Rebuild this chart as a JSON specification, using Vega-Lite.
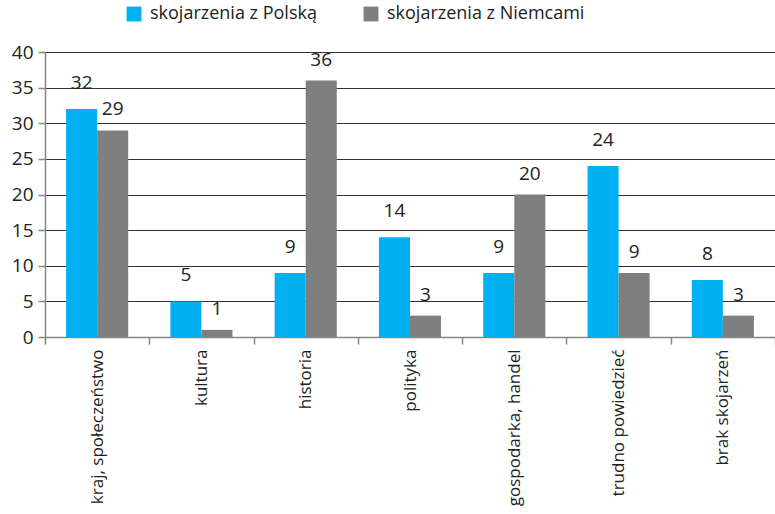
{
  "$schema": "https://vega.github.io/schema/vega-lite/v6.json",
  "width": 730,
  "height": 285,
  "autosize": {"type": "none"},
  "padding": {"left": 45, "top": 52, "right": 0, "bottom": 177},
  "background": "white",
  "config": {"view": {"stroke": null}, "font": "Open Sans"},
  "data": {
    "values": [
      {"kategoria": "kraj, społeczeństwo", "seria": "skojarzenia z Polską", "wartosc": 32},
      {"kategoria": "kraj, społeczeństwo", "seria": "skojarzenia z Niemcami", "wartosc": 29},
      {"kategoria": "kultura", "seria": "skojarzenia z Polską", "wartosc": 5},
      {"kategoria": "kultura", "seria": "skojarzenia z Niemcami", "wartosc": 1},
      {"kategoria": "historia", "seria": "skojarzenia z Polską", "wartosc": 9},
      {"kategoria": "historia", "seria": "skojarzenia z Niemcami", "wartosc": 36},
      {"kategoria": "polityka", "seria": "skojarzenia z Polską", "wartosc": 14},
      {"kategoria": "polityka", "seria": "skojarzenia z Niemcami", "wartosc": 3},
      {"kategoria": "gospodarka, handel", "seria": "skojarzenia z Polską", "wartosc": 9},
      {"kategoria": "gospodarka, handel", "seria": "skojarzenia z Niemcami", "wartosc": 20},
      {"kategoria": "trudno powiedzieć", "seria": "skojarzenia z Polską", "wartosc": 24},
      {"kategoria": "trudno powiedzieć", "seria": "skojarzenia z Niemcami", "wartosc": 9},
      {"kategoria": "brak skojarzeń", "seria": "skojarzenia z Polską", "wartosc": 8},
      {"kategoria": "brak skojarzeń", "seria": "skojarzenia z Niemcami", "wartosc": 3}
    ]
  },
  "encoding": {
    "x": {
      "field": "kategoria",
      "type": "nominal",
      "sort": ["kraj, społeczeństwo", "kultura", "historia", "polityka", "gospodarka, handel", "trudno powiedzieć", "brak skojarzeń"],
      "scale": {"paddingInner": 0, "paddingOuter": 0},
      "axis": {
        "title": null,
        "labelAngle": -90,
        "labelFontSize": 17,
        "labelColor": "#222222",
        "labelPadding": 5,
        "labelLimit": 300,
        "tickBand": "extent",
        "tickSize": 7,
        "tickColor": "#868686",
        "tickWidth": 1.5,
        "domainColor": "#868686",
        "domainWidth": 1.5,
        "grid": false
      }
    },
    "xOffset": {
      "field": "seria",
      "type": "nominal",
      "sort": ["skojarzenia z Polską", "skojarzenia z Niemcami"],
      "scale": {"paddingInner": 0, "paddingOuter": 0.68}
    },
    "y": {
      "field": "wartosc",
      "type": "quantitative",
      "scale": {"domain": [0, 40], "nice": false},
      "axis": {
        "title": null,
        "values": [0, 5, 10, 15, 20, 25, 30, 35, 40],
        "labelFontSize": 19,
        "labelColor": "#222222",
        "labelPadding": 5,
        "tickSize": 7,
        "tickColor": "#868686",
        "tickWidth": 1.5,
        "domainColor": "#868686",
        "domainWidth": 1.5,
        "grid": true,
        "gridColor": "#333333",
        "gridWidth": 1
      }
    }
  },
  "layer": [
    {
      "mark": {"type": "bar"},
      "encoding": {
        "color": {
          "field": "seria",
          "type": "nominal",
          "scale": {"domain": ["skojarzenia z Polską", "skojarzenia z Niemcami"], "range": ["#00b0f0", "#7f7f7f"]},
          "legend": {
            "title": null,
            "orient": "none",
            "legendX": 80,
            "legendY": -47,
            "direction": "horizontal",
            "symbolType": "square",
            "symbolSize": 220,
            "symbolStrokeWidth": 0,
            "labelFontSize": 18,
            "labelColor": "#222222",
            "labelLimit": 400,
            "labelOffset": 7,
            "columnPadding": 45
          }
        }
      }
    },
    {
      "transform": [{"filter": "datum.seria === 'skojarzenia z Polską'"}],
      "mark": {"type": "text", "baseline": "middle", "fontSize": 19, "color": "#222222", "dy": -26},
      "encoding": {"text": {"field": "wartosc", "type": "quantitative"}}
    },
    {
      "transform": [{"filter": "datum.seria === 'skojarzenia z Niemcami'"}],
      "mark": {"type": "text", "baseline": "middle", "fontSize": 19, "color": "#222222", "dy": -21},
      "encoding": {"text": {"field": "wartosc", "type": "quantitative"}}
    }
  ]
}
